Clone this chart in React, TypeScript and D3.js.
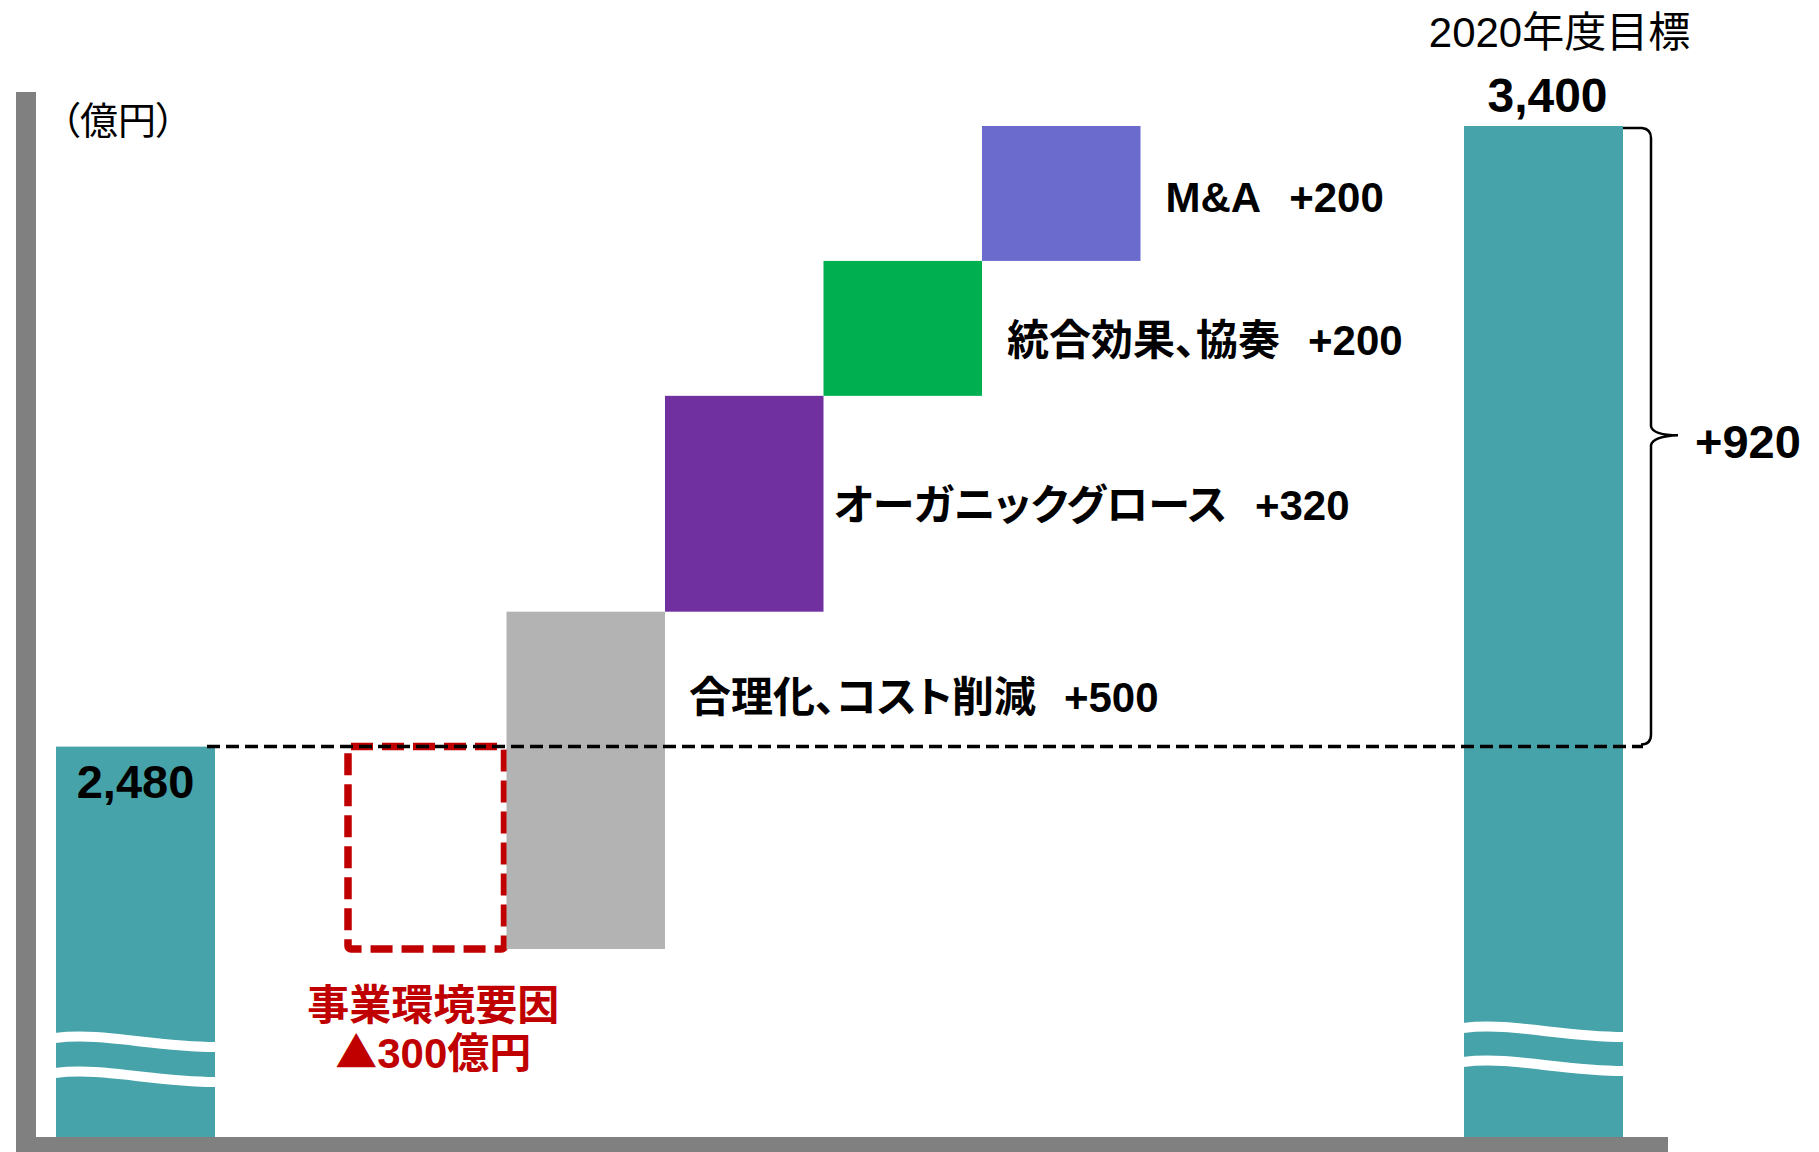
import React from 'react';
import * as d3 from 'd3';

// ---------- data ----------
const unitLabel = '（億円）';
const startValue = 2480;
const startLabel = '2,480';
const stepNames = ['事業環境要因', '合理化、コスト削減', 'オーガニックグロース', '統合効果、協奏', 'M&A'];
const stepValues = [-300, 500, 320, 200, 200];
const stepValueLabels = ['300億円', '+500', '+320', '+200', '+200'];
const stepColors = ['none', '#B3B3B3', '#7030A0', '#00B050', '#6B6BCD'];
const targetName = '2020年度目標';
const targetValue = 3400;
const targetLabel = '3,400';
const gainLabel = '+920';

// ---------- layout ----------
const W = 1819;
const H = 1152;
const TEAL = '#46A3A9';
const RED = '#C00000';
const AXIS = '#808080';
const LATIN = "'Liberation Sans', Arial, 'Noto Sans CJK JP', sans-serif";
const CJK = "'Noto Sans CJK JP', sans-serif";
const axisLeft = 16;
const axisTop = 92;
const axisBottom = 1137;
const axisRight = 1668;
const startX = 56;
const targetX = 1464;
const barW = 159;
const labelDx = [0, 24, 10, 25, 25];
const labelDy = [0, 33, 16, 27, 19];

export default function App() {
  const starts: number[] = [];
  const ends: number[] = [];
  let acc = startValue;
  stepValues.forEach((v) => {
    starts.push(acc);
    acc += v;
    ends.push(acc);
  });
  const lo = d3.min([...starts, ...ends]) as number;

  const y = d3.scaleLinear().domain([lo, targetValue]).range([949, 126]);
  const xStep = d3.scaleBand<string>().domain(stepNames).range([348, 348 + 158.5 * stepNames.length]).paddingInner(0);
  const bw = xStep.bandwidth();

  const yBase = y(startValue);
  const yTop = y(targetValue);

  const wave = (x0: number, x1: number, yc: number) => {
    const w = x1 - x0;
    const p = d3.path();
    p.moveTo(x0 - 1, yc);
    p.bezierCurveTo(x0 + 0.3 * w, yc - 6, x0 + 0.6 * w, yc + 9, x1 + 1, yc + 9);
    return p.toString();
  };

  const bx = 1651;
  const bMid = (yTop + yBase) / 2;
  const brace = d3.path();
  brace.moveTo(targetX + barW, yTop + 2);
  brace.lineTo(bx - 9, yTop + 2);
  brace.quadraticCurveTo(bx, yTop + 3, bx, yTop + 12);
  brace.lineTo(bx, bMid - 10);
  brace.quadraticCurveTo(bx + 2, bMid - 1, bx + 27, bMid - 1);
  brace.quadraticCurveTo(bx + 2, bMid, bx, bMid + 9);
  brace.lineTo(bx, yBase - 12);
  brace.quadraticCurveTo(bx, yBase - 2, bx - 10, yBase - 2);

  const palt = { fontFeatureSettings: '"palt"' } as React.CSSProperties;

  return (
    <svg width={W} height={H} style={{ position: 'absolute', left: 0, top: 0, display: 'block', background: '#fff' }}>
      <rect x={startX} y={yBase} width={barW} height={axisBottom - yBase} fill={TEAL} />
      <path d={wave(startX, startX + barW, 1038)} stroke="#fff" strokeWidth={10} fill="none" />
      <path d={wave(startX, startX + barW, 1073)} stroke="#fff" strokeWidth={10} fill="none" />

      <rect x={targetX} y={yTop} width={barW} height={axisBottom - yTop} fill={TEAL} />
      <path d={wave(targetX, targetX + barW, 1028)} stroke="#fff" strokeWidth={10} fill="none" />
      <path d={wave(targetX, targetX + barW, 1062)} stroke="#fff" strokeWidth={10} fill="none" />

      {stepNames.map((n, i) => {
        const x = xStep(n) as number;
        const y0 = y(Math.max(starts[i], ends[i]));
        const y1 = y(Math.min(starts[i], ends[i]));
        if (stepValues[i] < 0) {
          return (
            <rect key={n} x={x} y={y0} width={bw - 2} height={y1 - y0} fill="none" stroke={RED}
              strokeWidth={7.5} strokeDasharray="22 9" strokeLinejoin="round" rx={3} />
          );
        }
        return <rect key={n} x={x} y={y0} width={bw} height={y1 - y0} fill={stepColors[i]} />;
      })}

      <line x1={207} x2={bx - 8} y1={yBase} y2={yBase} stroke="#000" strokeWidth={3.5} strokeDasharray="13 6" />

      <path d={brace.toString()} fill="none" stroke="#000" strokeWidth={2.5} />

      <rect x={axisLeft} y={axisTop} width={20} height={H - axisTop} fill={AXIS} />
      <rect x={axisLeft} y={axisBottom} width={axisRight - axisLeft} height={H - axisBottom} fill={AXIS} />

      <text x={61} y={134} fontSize={38} fontFamily={LATIN} fill="#000" style={palt}>{unitLabel}</text>
      <text x={targetX + barW / 2 + 16} y={47} fontSize={42} fontFamily={LATIN} textAnchor="middle" fill="#000">{targetName}</text>
      <text x={targetX + barW / 2 + 4} y={yTop - 14} fontSize={48} fontWeight="bold" fontFamily={LATIN} textAnchor="middle" fill="#000">{targetLabel}</text>
      <text x={startX + barW / 2} y={yBase + 51} fontSize={47} fontWeight="bold" fontFamily={LATIN} textAnchor="middle" fill="#000">{startLabel}</text>
      <text x={bx + 44} y={bMid + 22} fontSize={47} fontWeight="bold" fontFamily={LATIN} fill="#000">{gainLabel}</text>

      {stepNames.map((n, i) => {
        const x = xStep(n) as number;
        if (stepValues[i] < 0) {
          const cx = x + bw / 2 + 6;
          return (
            <text key={n} x={cx} y={y(ends[i]) + 71} fill={RED} fontWeight="bold" fontSize={42} fontFamily={LATIN}
              textAnchor="middle" style={palt}>
              <tspan x={cx}>{n}</tspan>
              <tspan x={cx} dy={48} fontFamily={CJK}>▲</tspan>
              <tspan>{stepValueLabels[i]}</tspan>
            </text>
          );
        }
        const mid = (y(Math.max(starts[i], startValue)) + y(ends[i])) / 2;
        return (
          <text key={n} x={x + bw + labelDx[i]} y={mid + labelDy[i]} fontSize={42} fontWeight="bold" fontFamily={LATIN} fill="#000" style={palt}>
            <tspan>{n}</tspan>
            <tspan dx={28}>{stepValueLabels[i]}</tspan>
          </text>
        );
      })}
    </svg>
  );
}
